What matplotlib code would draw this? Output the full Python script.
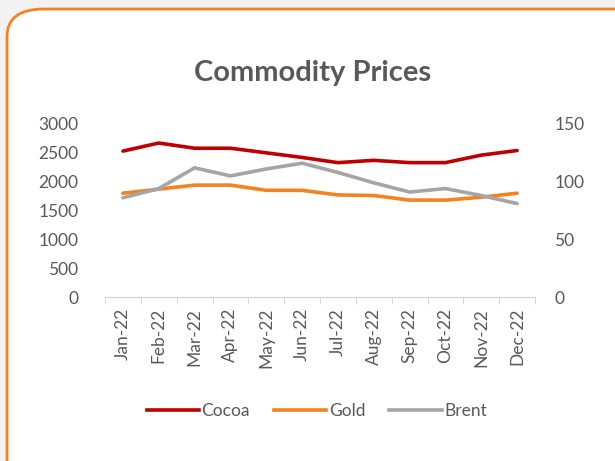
"""Commodity prices 2022: cocoa and gold on the left axis, Brent on the right."""

import matplotlib
matplotlib.use("Agg")
import matplotlib.pyplot as plt
from matplotlib.patches import FancyBboxPatch
from matplotlib.lines import Line2D

months = ["Jan-22", "Feb-22", "Mar-22", "Apr-22", "May-22", "Jun-22",
          "Jul-22", "Aug-22", "Sep-22", "Oct-22", "Nov-22", "Dec-22"]
cocoa = [2530, 2670, 2580, 2580, 2500, 2420, 2330, 2370, 2330, 2330, 2460, 2540]
gold = [1800, 1870, 1940, 1940, 1850, 1850, 1770, 1760, 1680, 1680, 1730, 1800]
brent = [86, 94, 112, 105, 111, 116, 108, 99, 91, 94, 88, 81]

TXT = "#595959"
plt.rcParams["font.family"] = ["Lato", "DejaVu Sans"]

fig = plt.figure(figsize=(6.15, 4.61), dpi=100)
fig.patch.set_facecolor("#f2f2f2")
box = FancyBboxPatch((7 / 615, -0.1), 1.2, 1.1 - 9 / 461,
                     boxstyle="round,pad=0,rounding_size=0.06",
                     transform=fig.transFigure, facecolor="white",
                     edgecolor="#f58220", linewidth=2, zorder=-10)
fig.patches.append(box)

ax = fig.add_axes([105 / 615, 164 / 461, 430 / 615, 173 / 461])
ax.patch.set_alpha(0)
x = range(len(months))
ax.plot(x, cocoa, color="#c00000", linewidth=2.6, solid_capstyle="round")
ax.plot(x, gold, color="#f58220", linewidth=2.6, solid_capstyle="round")
ax2 = ax.twinx()
ax2.plot(x, brent, color="#a5a5a5", linewidth=2.6, solid_capstyle="round")

ax.set_xlim(-0.5, len(months) - 0.5)
ax.set_ylim(0, 3000)
ax.set_yticks(range(0, 3001, 500))
ax2.set_ylim(0, 150)
ax2.set_yticks(range(0, 151, 50))

for a in (ax, ax2):
    for s in ("top", "left", "right", "bottom"):
        a.spines[s].set_visible(False)
ax.spines["bottom"].set_visible(True)
ax.spines["bottom"].set_color("#d0d0d0")

ax.set_xticks(list(x))
ax.set_xticklabels(months, rotation=90)
ax.set_xticks([i - 0.5 for i in range(len(months) + 1)], minor=True)
ax.tick_params(axis="x", which="major", length=0, pad=8, labelsize=12.5, colors=TXT)
ax.tick_params(axis="x", which="minor", length=5, color="#d0d0d0")
ax.tick_params(axis="y", length=0, pad=19, labelsize=12.5, colors=TXT)
ax2.tick_params(axis="y", length=0, pad=14, labelsize=12.5, colors=TXT)

fig.text(0.508, 1 - 73 / 461, "Commodity Prices", ha="center", va="center",
         fontsize=21, fontweight="bold", color=TXT)

handles = [Line2D([], [], color=c, linewidth=2.6) for c in ("#c00000", "#f58220", "#a5a5a5")]
fig.legend(handles, ["Cocoa", "Gold", "Brent"], loc="center",
           bbox_to_anchor=(0.515, 1 - 411 / 461), ncol=3, frameon=False,
           fontsize=12.5, labelcolor=TXT, handlelength=3.0, handletextpad=0.15,
           columnspacing=1.4)

fig.savefig("out.png", dpi=100)
